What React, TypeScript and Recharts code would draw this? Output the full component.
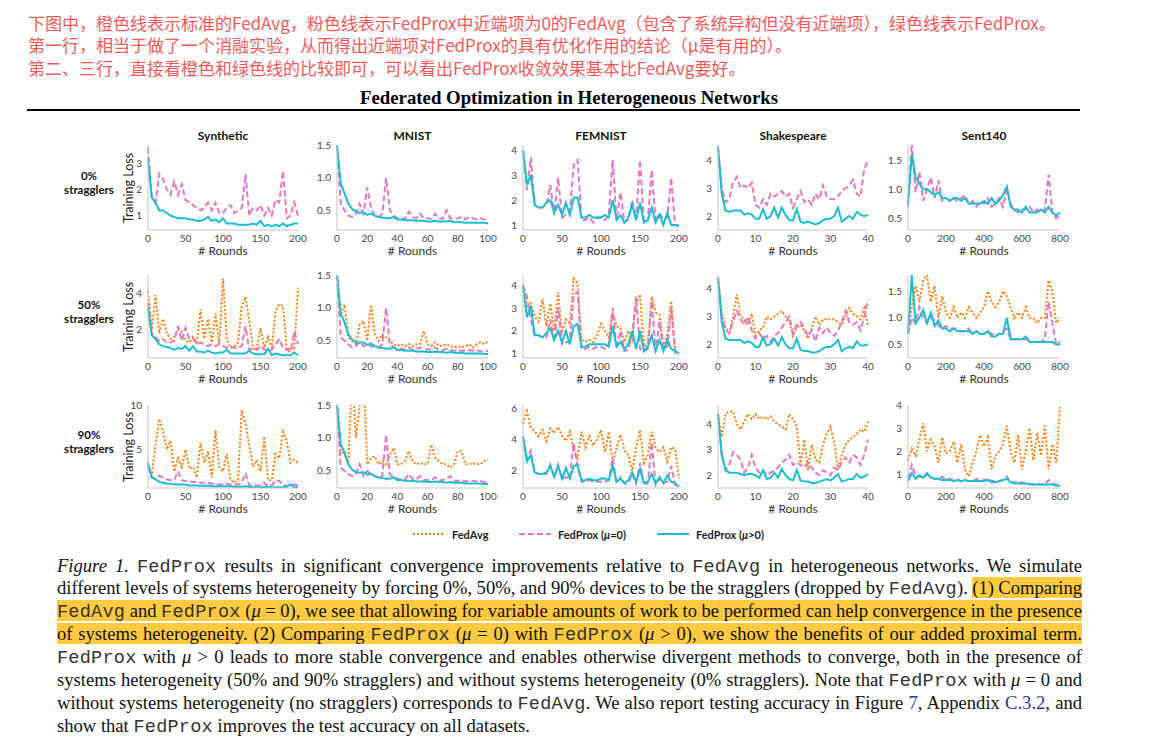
import React from 'react';
import { LineChart, Line, XAxis, YAxis } from 'recharts';

// x values (rounds) per dataset
const roundsSynthetic = [0, 5, 10, 15, 20, 25, 30, 35, 40, 45, 50, 55, 60, 65, 70, 75, 80, 85, 90, 95, 100, 105, 110, 115, 120, 125, 130, 135, 140, 145, 150, 155, 160, 165, 170, 175, 180, 185, 190, 195, 200];
const roundsMnist = [0, 2.5, 5, 7.5, 10, 12.5, 15, 17.5, 20, 22.5, 25, 27.5, 30, 32.5, 35, 37.5, 40, 42.5, 45, 47.5, 50, 52.5, 55, 57.5, 60, 62.5, 65, 67.5, 70, 72.5, 75, 77.5, 80, 82.5, 85, 87.5, 90, 92.5, 95, 97.5, 100];
const roundsFemnist = [0, 5, 10, 15, 20, 25, 30, 35, 40, 45, 50, 55, 60, 65, 70, 75, 80, 85, 90, 95, 100, 105, 110, 115, 120, 125, 130, 135, 140, 145, 150, 155, 160, 165, 170, 175, 180, 185, 190, 195, 200];
const roundsShakespeare = [0, 1, 2, 3, 4, 5, 6, 7, 8, 9, 10, 11, 12, 13, 14, 15, 16, 17, 18, 19, 20, 21, 22, 23, 24, 25, 26, 27, 28, 29, 30, 31, 32, 33, 34, 35, 36, 37, 38, 39, 40];
const roundsSent140 = [0, 20, 40, 60, 80, 100, 120, 140, 160, 180, 200, 220, 240, 260, 280, 300, 320, 340, 360, 380, 400, 420, 440, 460, 480, 500, 520, 540, 560, 580, 600, 620, 640, 660, 680, 700, 720, 740, 760, 780, 800];

// 0% stragglers
const syn0Prox0 = [3.6, 1.7, 1.5, 2.6, 2.4, 2.0, 1.8, 2.3, 1.8, 2.2, 1.6, 1.5, 1.4, 1.3, 1.2, 1.3, 1.5, 1.2, 1.5, 1.1, 1.1, 1.3, 1.4, 1.1, 1.2, 1.3, 2.6, 1.0, 1.3, 1.2, 1.4, 1.0, 1.3, 1.0, 1.6, 1.5, 2.7, 0.9, 1.0, 1.5, 1.0];
const syn0Prox = [3.2, 1.7, 1.5, 1.2, 1.2, 1.1, 1.0, 0.95, 0.9, 0.9, 0.9, 0.85, 0.85, 0.8, 0.8, 0.85, 0.95, 0.8, 0.85, 0.75, 0.9, 0.7, 0.7, 0.7, 0.65, 0.65, 0.65, 0.65, 0.7, 0.65, 0.8, 0.6, 0.65, 0.6, 0.65, 0.6, 0.7, 0.6, 0.65, 0.7, 0.7];
const mnist0Prox0 = [1.5, 0.6, 0.5, 0.42, 0.4, 0.45, 0.6, 0.45, 0.85, 0.55, 0.42, 0.4, 0.45, 1.0, 0.5, 0.42, 0.38, 0.38, 0.37, 0.48, 0.4, 0.38, 0.45, 0.38, 0.38, 0.37, 0.45, 0.38, 0.37, 0.5, 0.38, 0.37, 0.38, 0.4, 0.36, 0.4, 0.38, 0.36, 0.38, 0.36, 0.36];
const mnist0Prox = [1.5, 0.9, 0.76, 0.6, 0.52, 0.48, 0.46, 0.47, 0.43, 0.45, 0.42, 0.4, 0.39, 0.38, 0.38, 0.4, 0.36, 0.36, 0.35, 0.35, 0.35, 0.34, 0.34, 0.34, 0.33, 0.33, 0.34, 0.33, 0.33, 0.33, 0.34, 0.32, 0.32, 0.32, 0.31, 0.31, 0.31, 0.31, 0.31, 0.31, 0.3];
const femnist0Prox0 = [4.0, 2.4, 3.7, 1.8, 1.7, 1.7, 1.8, 2.6, 1.4, 2.9, 1.3, 1.4, 1.5, 3.4, 3.6, 1.2, 1.2, 1.3, 1.1, 1.3, 1.3, 1.2, 1.4, 3.6, 1.2, 2.3, 1.1, 1.2, 2.0, 1.2, 3.6, 1.1, 1.2, 3.2, 1.1, 1.5, 1.2, 1.3, 2.9, 1.0, 1.0];
const femnist0Prox = [4.0, 2.6, 3.0, 1.8, 1.7, 1.7, 1.9, 2.0, 1.5, 1.8, 1.4, 1.9, 1.4, 2.1, 2.1, 1.3, 1.3, 1.4, 1.3, 1.3, 1.3, 1.4, 1.3, 2.0, 1.2, 1.4, 1.1, 1.3, 1.8, 1.2, 1.9, 1.1, 1.2, 1.7, 1.1, 1.4, 1.0, 1.5, 1.0, 1.0, 0.95];
const shakes0Prox0 = [4.5, 3.0, 2.5, 2.6, 3.2, 3.4, 3.0, 3.1, 3.0, 3.2, 2.4, 2.3, 2.6, 2.4, 2.8, 2.7, 2.8, 2.9, 2.7, 2.8, 2.3, 2.6, 2.9, 2.5, 2.6, 2.4, 2.8, 2.6, 3.1, 2.7, 2.6, 2.6, 2.7, 2.9, 3.0, 3.1, 3.3, 2.8, 2.7, 3.7, 4.0];
const shakes0Prox = [4.5, 2.8, 2.2, 2.15, 2.2, 2.2, 2.2, 2.05, 2.1, 2.05, 1.9, 1.9, 2.25, 1.9, 2.0, 2.3, 1.95, 2.3, 2.05, 1.85, 1.85, 2.25, 1.8, 1.75, 1.8, 1.75, 1.7, 1.75, 1.85, 1.9, 1.9, 2.0, 2.3, 1.8, 1.9, 2.0, 1.9, 2.15, 2.05, 2.0, 2.05];
const sent0Prox0 = [0.7, 1.8, 0.95, 1.3, 0.8, 1.0, 1.2, 0.85, 1.15, 0.8, 0.85, 0.8, 0.85, 0.8, 0.85, 0.9, 0.75, 0.8, 0.7, 0.8, 0.75, 0.85, 0.7, 0.75, 0.85, 0.7, 1.0, 0.75, 0.65, 0.6, 0.65, 0.65, 0.7, 0.6, 0.65, 0.6, 0.65, 1.25, 0.6, 0.5, 0.55];
const sent0Prox = [0.75, 1.6, 1.2, 1.1, 1.0, 1.0, 0.95, 0.9, 0.95, 0.85, 0.85, 0.8, 0.85, 0.85, 0.8, 0.85, 0.75, 0.75, 0.75, 0.75, 0.8, 0.75, 0.85, 0.75, 0.8, 0.9, 1.05, 0.7, 0.65, 0.65, 0.6, 0.7, 0.6, 0.6, 0.6, 0.65, 0.6, 0.7, 0.6, 0.55, 0.6];

// 50% stragglers
const syn50Avg = [4.1, 2.0, 3.9, 1.8, 2.6, 1.8, 1.5, 1.6, 2.0, 1.9, 1.4, 1.3, 1.6, 1.3, 3.1, 1.5, 2.6, 1.3, 2.9, 1.2, 4.8, 1.5, 1.0, 1.1, 1.3, 3.3, 3.8, 2.5, 1.0, 0.9, 2.1, 1.0, 1.6, 1.0, 3.0, 3.4, 3.3, 0.9, 1.0, 0.9, 4.3];
const syn50Prox0 = [3.5, 1.8, 1.6, 1.4, 1.5, 1.3, 1.3, 1.4, 2.2, 1.4, 2.1, 1.5, 1.5, 1.2, 1.3, 1.2, 1.1, 1.2, 1.1, 1.2, 1.1, 1.0, 1.1, 1.0, 1.0, 1.1, 2.2, 0.9, 1.0, 0.9, 1.1, 0.9, 0.9, 0.9, 1.2, 1.5, 1.0, 0.9, 0.8, 1.9, 1.2];
const syn50Prox = [3.2, 1.7, 1.5, 1.2, 1.1, 1.05, 1.0, 0.9, 1.0, 0.95, 1.1, 0.85, 1.1, 0.8, 0.8, 0.75, 0.85, 0.75, 0.7, 0.75, 0.75, 0.9, 0.7, 0.7, 0.7, 0.7, 0.7, 0.85, 0.7, 0.65, 0.65, 0.65, 0.95, 0.6, 0.7, 0.65, 0.6, 0.6, 0.6, 0.75, 0.6];
const mnist50Avg = [1.5, 0.9, 1.05, 0.55, 0.5, 0.45, 0.75, 0.8, 0.5, 1.05, 0.6, 0.5, 0.6, 0.55, 0.5, 0.45, 0.42, 0.45, 0.42, 0.45, 0.42, 0.45, 0.45, 0.65, 0.45, 0.42, 0.48, 0.42, 0.43, 0.45, 0.42, 0.4, 0.42, 0.4, 0.42, 0.45, 0.4, 0.45, 0.48, 0.45, 0.5];
const mnist50Prox0 = [1.5, 0.55, 0.5, 0.45, 0.4, 0.42, 0.48, 0.42, 0.45, 0.42, 0.42, 0.4, 0.45, 1.0, 0.45, 0.4, 0.38, 0.38, 0.37, 0.4, 0.37, 0.38, 0.4, 0.38, 0.37, 0.37, 0.4, 0.36, 0.36, 0.38, 0.36, 0.35, 0.36, 0.35, 0.35, 0.36, 0.35, 0.36, 0.34, 0.35, 0.35];
const mnist50Prox = [1.5, 0.9, 0.78, 0.6, 0.52, 0.48, 0.47, 0.48, 0.44, 0.46, 0.42, 0.4, 0.39, 0.38, 0.38, 0.4, 0.36, 0.36, 0.35, 0.35, 0.35, 0.34, 0.34, 0.34, 0.33, 0.33, 0.34, 0.33, 0.33, 0.32, 0.33, 0.32, 0.32, 0.32, 0.31, 0.31, 0.31, 0.31, 0.31, 0.3, 0.3];
const femnist50Avg = [4.0, 3.0, 3.2, 2.6, 2.4, 3.4, 2.2, 3.2, 2.0, 3.7, 1.9, 2.5, 2.3, 4.3, 4.1, 1.6, 1.5, 1.6, 1.5, 1.8, 2.3, 2.0, 1.7, 2.8, 2.2, 2.1, 1.5, 2.0, 1.6, 3.2, 3.6, 1.3, 1.4, 3.5, 2.8, 2.7, 1.3, 1.8, 3.3, 1.1, 1.0];
const femnist50Prox0 = [4.0, 3.5, 2.5, 1.8, 1.8, 1.7, 1.7, 2.5, 1.5, 3.0, 1.4, 1.5, 1.5, 3.6, 3.7, 1.2, 1.2, 1.3, 1.2, 1.3, 1.3, 1.2, 1.4, 3.0, 1.2, 2.0, 1.1, 1.2, 1.8, 3.5, 1.2, 1.1, 1.2, 3.3, 1.1, 2.4, 1.2, 1.3, 3.0, 1.0, 1.0];
const femnist50Prox = [4.0, 2.6, 3.1, 1.8, 1.8, 1.7, 1.9, 2.1, 1.6, 2.0, 1.5, 2.0, 1.4, 2.2, 2.3, 1.3, 1.3, 1.4, 1.4, 1.4, 1.4, 1.4, 1.3, 2.2, 1.3, 1.5, 1.2, 1.4, 2.0, 1.2, 2.0, 1.1, 1.3, 1.8, 1.1, 1.6, 1.1, 1.6, 1.2, 1.1, 1.0];
const shakes50Avg = [4.4, 3.2, 2.6, 2.4, 3.0, 3.8, 3.0, 2.9, 2.7, 3.1, 2.3, 2.5, 2.6, 3.0, 2.9, 3.0, 3.1, 3.2, 3.0, 2.8, 2.3, 2.6, 2.7, 2.5, 2.2, 2.6, 3.0, 2.7, 2.9, 2.9, 2.9, 2.9, 2.8, 2.7, 3.0, 3.3, 3.1, 3.0, 2.9, 3.3, 2.7];
const shakes50Prox0 = [4.4, 3.0, 2.5, 2.4, 2.8, 3.2, 2.9, 2.7, 3.0, 2.5, 2.2, 2.4, 2.2, 2.3, 2.1, 2.3, 2.4, 2.6, 2.8, 3.0, 2.4, 2.7, 2.8, 2.6, 2.3, 2.5, 2.1, 2.6, 2.4, 2.6, 2.4, 2.3, 2.5, 2.8, 3.2, 2.8, 2.7, 2.8, 2.5, 3.0, 3.6];
const shakes50Prox = [4.4, 2.8, 2.2, 2.15, 2.15, 2.15, 2.15, 2.05, 2.1, 2.05, 1.9, 1.9, 2.25, 1.95, 2.0, 2.2, 1.95, 2.25, 2.0, 1.85, 1.85, 2.2, 1.8, 1.75, 1.75, 1.7, 1.7, 1.75, 1.85, 1.9, 1.9, 2.0, 2.15, 1.75, 1.85, 1.9, 1.85, 2.1, 1.95, 1.95, 2.0];
const sent50Avg = [0.8, 1.2, 1.6, 1.3, 1.7, 1.8, 1.3, 1.6, 1.0, 1.4, 1.1, 1.0, 1.2, 1.0, 1.1, 1.0, 1.2, 1.1, 1.0, 1.1, 1.2, 1.5, 1.3, 1.2, 1.3, 1.5, 1.4, 1.2, 1.0, 1.1, 1.0, 1.2, 1.0, 1.0, 0.9, 1.0, 1.0, 1.7, 1.5, 0.9, 1.0];
const sent50Prox0 = [0.7, 1.0, 0.9, 1.2, 1.0, 0.9, 1.0, 0.95, 0.85, 0.8, 0.85, 0.8, 0.8, 0.8, 0.75, 0.75, 0.8, 0.7, 0.75, 0.7, 0.7, 0.75, 0.7, 0.65, 0.7, 0.75, 0.8, 0.6, 0.6, 0.6, 0.6, 0.6, 0.55, 0.55, 0.55, 0.55, 0.6, 1.3, 0.9, 0.5, 0.55];
const sent50Prox = [0.7, 1.8, 0.9, 1.0, 1.15, 0.9, 1.1, 0.85, 0.95, 0.8, 0.8, 0.75, 0.8, 0.75, 0.75, 0.75, 0.75, 0.7, 0.75, 0.7, 0.7, 0.75, 0.65, 0.65, 0.7, 0.7, 1.0, 0.6, 0.6, 0.6, 0.6, 0.65, 0.55, 0.55, 0.55, 0.55, 0.55, 0.55, 0.55, 0.5, 0.5];

// 90% stragglers
const syn90Avg = [3.0, 2.0, 5.5, 8.5, 7.2, 5.0, 6.0, 2.5, 4.0, 3.0, 5.0, 2.8, 3.0, 1.8, 5.8, 3.5, 4.8, 1.8, 7.2, 3.0, 2.5, 4.5, 1.5, 1.2, 1.5, 9.5, 8.0, 5.5, 3.0, 3.8, 2.5, 6.5, 1.5, 1.5, 4.5, 4.0, 7.0, 6.0, 3.5, 3.8, 3.5];
const syn90Prox0 = [3.0, 1.8, 1.7, 2.0, 1.8, 1.6, 1.5, 1.5, 2.5, 1.5, 1.4, 1.4, 1.3, 1.3, 1.2, 1.2, 1.2, 1.1, 1.1, 1.0, 1.0, 1.1, 1.0, 1.0, 1.0, 1.2, 2.3, 0.9, 0.9, 0.9, 0.9, 1.2, 0.8, 0.9, 1.5, 1.4, 1.0, 0.8, 1.0, 1.0, 0.9];
const syn90Prox = [3.5, 1.8, 1.6, 1.3, 1.2, 1.1, 1.1, 1.0, 1.0, 1.0, 1.0, 0.9, 0.9, 0.9, 0.85, 0.85, 0.85, 0.8, 0.8, 0.8, 0.8, 0.8, 0.8, 0.75, 0.75, 0.75, 0.8, 0.75, 0.7, 0.7, 0.7, 0.75, 0.7, 0.7, 0.7, 0.7, 0.7, 0.75, 1.0, 0.7, 0.7];
const mnist90Avg = [1.5, 0.8, 0.75, 0.6, 2.0, 1.0, 1.5, 2.0, 0.6, 0.7, 0.72, 0.6, 0.65, 0.6, 0.75, 0.85, 0.6, 0.6, 0.65, 0.8, 0.65, 0.6, 0.62, 0.6, 0.6, 0.9, 0.7, 0.65, 0.6, 0.6, 0.55, 0.6, 0.8, 0.8, 0.6, 0.6, 0.62, 0.6, 0.6, 0.65, 0.68];
const mnist90Prox0 = [1.5, 0.55, 0.5, 0.45, 0.42, 0.45, 0.6, 0.42, 0.5, 0.45, 0.42, 0.4, 0.42, 1.05, 0.45, 0.4, 0.38, 0.37, 0.37, 0.45, 0.38, 0.37, 0.42, 0.36, 0.36, 0.36, 0.4, 0.35, 0.36, 0.38, 0.42, 0.35, 0.35, 0.36, 0.34, 0.35, 0.35, 0.34, 0.35, 0.33, 0.34];
const mnist90Prox = [1.5, 0.9, 0.78, 0.6, 0.52, 0.48, 0.47, 0.48, 0.44, 0.46, 0.42, 0.4, 0.39, 0.38, 0.38, 0.4, 0.36, 0.36, 0.35, 0.35, 0.35, 0.34, 0.34, 0.34, 0.33, 0.33, 0.34, 0.33, 0.33, 0.32, 0.33, 0.32, 0.32, 0.32, 0.31, 0.31, 0.31, 0.31, 0.31, 0.3, 0.3];
const femnist90Avg = [5.0, 5.8, 4.8, 4.5, 4.2, 4.6, 3.9, 4.7, 4.4, 4.8, 4.2, 3.9, 4.5, 3.3, 2.8, 4.5, 3.5, 4.2, 3.6, 4.0, 4.6, 3.2, 4.5, 2.5, 3.5, 4.3, 3.3, 3.0, 2.0, 3.5, 4.6, 2.5, 3.0, 4.5, 3.5, 3.2, 3.5, 2.6, 3.5, 3.4, 1.5];
const femnist90Prox0 = [4.2, 2.8, 3.3, 1.9, 1.8, 1.8, 1.8, 2.4, 1.6, 2.4, 1.5, 1.6, 1.5, 3.8, 2.2, 1.3, 1.3, 1.4, 1.3, 1.3, 1.3, 1.3, 1.4, 2.8, 1.2, 1.6, 1.2, 1.2, 1.8, 1.2, 2.5, 1.1, 1.2, 3.8, 1.1, 1.5, 1.2, 1.3, 2.3, 1.1, 1.0];
const femnist90Prox = [4.2, 2.6, 3.0, 1.9, 1.8, 1.8, 1.9, 2.3, 1.6, 2.3, 1.5, 2.2, 1.5, 2.3, 2.4, 1.4, 1.4, 1.5, 1.4, 1.4, 1.5, 1.5, 1.4, 2.3, 1.3, 1.5, 1.2, 1.4, 1.9, 1.3, 2.1, 1.2, 1.3, 1.8, 1.2, 1.6, 1.2, 1.7, 1.3, 1.2, 1.0];
const shakes90Avg = [4.4, 3.5, 4.4, 4.5, 4.5, 4.0, 3.8, 4.1, 4.4, 4.2, 4.4, 4.2, 4.3, 4.2, 4.3, 4.1, 4.0, 3.9, 3.8, 4.4, 4.2, 3.9, 2.4, 3.4, 2.2, 3.2, 2.6, 2.5, 3.2, 3.6, 3.9, 3.3, 2.2, 2.8, 3.2, 3.4, 3.5, 3.6, 3.8, 3.7, 4.1];
const shakes90Prox0 = [4.4, 2.8, 2.2, 2.4, 2.9, 2.8, 2.6, 2.1, 2.3, 2.8, 2.3, 2.1, 2.2, 2.0, 2.1, 2.2, 2.3, 2.5, 2.6, 2.8, 2.4, 2.5, 2.4, 2.3, 2.5, 2.3, 2.1, 2.0, 2.2, 2.1, 2.0, 2.3, 2.2, 2.5, 2.7, 2.5, 2.8, 2.7, 2.4, 2.8, 3.4];
const shakes90Prox = [4.4, 2.8, 2.2, 2.1, 2.1, 2.1, 2.05, 2.0, 2.05, 2.05, 2.0, 1.9, 2.2, 1.85, 1.9, 2.1, 1.9, 2.25, 2.0, 1.85, 1.8, 2.2, 1.8, 1.75, 1.75, 1.7, 1.7, 1.75, 1.8, 1.85, 1.8, 1.9, 2.05, 1.75, 1.8, 1.85, 1.85, 2.05, 1.9, 1.95, 2.05];
const sent90Avg = [1.6, 2.1, 1.8, 2.5, 3.2, 2.0, 2.5, 2.2, 1.5, 2.6, 1.9, 2.0, 2.4, 1.5, 2.3, 1.2, 0.9, 1.5, 2.0, 2.7, 2.2, 2.6, 1.2, 1.8, 2.0, 2.3, 3.1, 2.0, 1.5, 2.7, 1.2, 2.0, 3.0, 1.6, 2.8, 1.8, 3.1, 1.2, 2.3, 1.5, 3.9];
const sent90Prox0 = [0.8, 1.4, 0.9, 0.9, 0.85, 1.0, 0.85, 0.8, 0.8, 0.9, 0.75, 0.8, 0.75, 0.75, 0.7, 0.75, 0.7, 0.7, 0.8, 0.7, 0.75, 0.8, 0.7, 0.7, 0.7, 0.75, 0.9, 0.65, 0.65, 0.6, 0.65, 0.6, 0.6, 0.55, 0.6, 0.55, 0.55, 0.75, 0.6, 0.55, 0.5];
const sent90Prox = [0.7, 1.05, 0.8, 0.95, 0.85, 1.05, 0.85, 0.8, 0.8, 0.75, 0.75, 0.75, 0.7, 0.75, 0.7, 0.75, 0.7, 0.7, 0.7, 0.7, 0.7, 0.75, 0.65, 0.65, 0.7, 0.75, 0.8, 0.65, 0.6, 0.6, 0.6, 0.6, 0.55, 0.55, 0.55, 0.55, 0.55, 0.55, 0.55, 0.5, 0.5];

const datasetTitles = ['Synthetic', 'MNIST', 'FEMNIST', 'Shakespeare', 'Sent140'];
const rowLabels = ['0%', '50%', '90%'];

const COLORS = { avg: '#ff7f0e', prox0: '#e377c2', prox: '#17becf' };

// pixel layout of the plot areas
const colLeft = [148, 337, 523, 718, 908];
const colRight = [298, 488, 679, 868, 1060];
const rowTop = [145, 275, 405];
const rowBottom = [230, 358, 488];

type PanelCfg = {
  rounds: number[];
  xTicks: number[];
  yDomain: [number, number];
  yTicks: number[];
  decimals: number;
  avg?: number[];
  prox0: number[];
  prox: number[];
};

const xt = {
  syn: [0, 50, 100, 150, 200],
  mnist: [0, 20, 40, 60, 80, 100],
  shakes: [0, 10, 20, 30, 40],
  sent: [0, 200, 400, 600, 800],
};

const panels: PanelCfg[][] = [
  [
    { rounds: roundsSynthetic, xTicks: xt.syn, yDomain: [0.45, 3.7], yTicks: [1, 2, 3], decimals: 0, prox0: syn0Prox0, prox: syn0Prox },
    { rounds: roundsMnist, xTicks: xt.mnist, yDomain: [0.2, 1.5], yTicks: [0.5, 1.0, 1.5], decimals: 1, prox0: mnist0Prox0, prox: mnist0Prox },
    { rounds: roundsFemnist, xTicks: xt.syn, yDomain: [0.8, 4.2], yTicks: [1, 2, 3, 4], decimals: 0, prox0: femnist0Prox0, prox: femnist0Prox },
    { rounds: roundsShakespeare, xTicks: xt.shakes, yDomain: [1.5, 4.55], yTicks: [2, 3, 4], decimals: 0, prox0: shakes0Prox0, prox: shakes0Prox },
    { rounds: roundsSent140, xTicks: xt.sent, yDomain: [0.3, 1.76], yTicks: [0.5, 1.0, 1.5], decimals: 1, prox0: sent0Prox0, prox: sent0Prox },
  ],
  [
    { rounds: roundsSynthetic, xTicks: xt.syn, yDomain: [0.45, 5.0], yTicks: [2, 4], decimals: 0, avg: syn50Avg, prox0: syn50Prox0, prox: syn50Prox },
    { rounds: roundsMnist, xTicks: xt.mnist, yDomain: [0.24, 1.5], yTicks: [0.5, 1.0, 1.5], decimals: 1, avg: mnist50Avg, prox0: mnist50Prox0, prox: mnist50Prox },
    { rounds: roundsFemnist, xTicks: xt.syn, yDomain: [0.8, 4.45], yTicks: [1, 2, 3, 4], decimals: 0, avg: femnist50Avg, prox0: femnist50Prox0, prox: femnist50Prox },
    { rounds: roundsShakespeare, xTicks: xt.shakes, yDomain: [1.5, 4.5], yTicks: [2, 3, 4], decimals: 0, avg: shakes50Avg, prox0: shakes50Prox0, prox: shakes50Prox },
    { rounds: roundsSent140, xTicks: xt.sent, yDomain: [0.25, 1.8], yTicks: [0.5, 1.0, 1.5], decimals: 1, avg: sent50Avg, prox0: sent50Prox0, prox: sent50Prox },
  ],
  [
    { rounds: roundsSynthetic, xTicks: xt.syn, yDomain: [0.6, 10.1], yTicks: [5, 10], decimals: 0, avg: syn90Avg, prox0: syn90Prox0, prox: syn90Prox },
    { rounds: roundsMnist, xTicks: xt.mnist, yDomain: [0.24, 1.5], yTicks: [0.5, 1.0, 1.5], decimals: 1, avg: mnist90Avg, prox0: mnist90Prox0, prox: mnist90Prox },
    { rounds: roundsFemnist, xTicks: xt.syn, yDomain: [0.9, 6.2], yTicks: [2, 4, 6], decimals: 0, avg: femnist90Avg, prox0: femnist90Prox0, prox: femnist90Prox },
    { rounds: roundsShakespeare, xTicks: xt.shakes, yDomain: [1.5, 4.75], yTicks: [2, 3, 4], decimals: 0, avg: shakes90Avg, prox0: shakes90Prox0, prox: shakes90Prox },
    { rounds: roundsSent140, xTicks: xt.sent, yDomain: [0.4, 4.0], yTicks: [1, 2, 3, 4], decimals: 0, avg: sent90Avg, prox0: sent90Prox0, prox: sent90Prox },
  ],
];

const sans = 'Lato, "Open Sans", sans-serif';
const serif = '"Liberation Serif", "Times New Roman", serif';
const mono = '"Liberation Mono", "Courier New", monospace';
const tickStyle = { fontSize: 10, fill: '#444', fontFamily: sans };
const axisStyle = { stroke: '#c4c4c4' };

const Panel = ({ cfg, row, col }: { cfg: PanelCfg; row: number; col: number }) => {
  const left = colLeft[col];
  const right = colRight[col];
  const top = rowTop[row];
  const bottom = rowBottom[row];
  const data = cfg.rounds.map((r, i) => ({
    round: r,
    avg: cfg.avg ? cfg.avg[i] : null,
    prox0: cfg.prox0[i],
    prox: cfg.prox[i],
  }));
  const xMax = cfg.xTicks[cfg.xTicks.length - 1];
  return (
    <div style={{ position: 'absolute', left: left - 30, top: top - 9 }}>
      <LineChart width={right - left + 42} height={bottom - top + 25} data={data} margin={{ top: 9, right: 12, bottom: 0, left: 0 }}>
        <XAxis dataKey="round" type="number" domain={[0, xMax]} ticks={cfg.xTicks} interval={0}
          tickLine={false} tickSize={3} height={16} axisLine={axisStyle} tick={tickStyle} />
        <YAxis type="number" domain={cfg.yDomain} ticks={cfg.yTicks} interval={0} allowDataOverflow
          width={30} tickLine={false} tickSize={4} axisLine={axisStyle} tick={tickStyle}
          tickFormatter={(v: number) => v.toFixed(cfg.decimals)} />
        {cfg.avg && (
          <Line dataKey="avg" stroke={COLORS.avg} strokeWidth={2} strokeDasharray="2 2" dot={false} isAnimationActive={false} />
        )}
        <Line dataKey="prox0" stroke={COLORS.prox0} strokeWidth={2} strokeDasharray="6 3" dot={false} isAnimationActive={false} />
        <Line dataKey="prox" stroke={COLORS.prox} strokeWidth={2} dot={false} isAnimationActive={false} />
      </LineChart>
      <div style={{ position: 'absolute', left: 30, width: right - left, top: bottom - top + 23, textAlign: 'center', fontFamily: sans, fontSize: 12, lineHeight: '14px', color: '#333' }}>
        # Rounds
      </div>
    </div>
  );
};

const M = ({ children }: { children: React.ReactNode }) => <span style={{ fontFamily: mono, color: '#333', letterSpacing: '0.2px' }}>{children}</span>;
const mu = <i>μ</i>;
const hl = { background: '#ffc940' };
const link = { color: '#1c3b9e' };

const captionLines: React.ReactNode[] = [
  <><i>Figure 1.</i> <M>FedProx</M> results in significant convergence improvements relative to <M>FedAvg</M> in heterogeneous networks.  We simulate</>,
  <>different levels of systems heterogeneity by forcing 0%, 50%, and 90% devices to be the stragglers (dropped by <M>FedAvg</M>). <span style={hl}>(1) Comparing</span></>,
  <span style={hl}><M>FedAvg</M> and <M>FedProx</M> ({mu} = 0), we see that allowing for variable amounts of work to be performed can help convergence in the presence</span>,
  <span style={hl}>of systems heterogeneity. (2) Comparing <M>FedProx</M> ({mu} = 0) with <M>FedProx</M> ({mu} &gt; 0), we show the benefits of our added proximal term.</span>,
  <><M>FedProx</M> with {mu} &gt; 0 leads to more stable convergence and enables otherwise divergent methods to converge, both in the presence of</>,
  <>systems heterogeneity (50% and 90% stragglers) and without systems heterogeneity (0% stragglers). Note that <M>FedProx</M> with {mu} = 0 and</>,
  <>without systems heterogeneity (no stragglers) corresponds to <M>FedAvg</M>. We also report testing accuracy in Figure <span style={link}>7</span>, Appendix <span style={link}>C.3.2</span>, and</>,
  <>show that <M>FedProx</M> improves the test accuracy on all datasets.</>,
];

const noteLines = [
  '下图中，橙色线表示标准的FedAvg，粉色线表示FedProx中近端项为0的FedAvg（包含了系统异构但没有近端项），绿色线表示FedProx。',
  '第一行，相当于做了一个消融实验，从而得出近端项对FedProx的具有优化作用的结论（μ是有用的）。',
  '第二、三行，直接看橙色和绿色线的比较即可，可以看出FedProx收敛效果基本比FedAvg要好。',
];

const LegendItem = ({ x, color, dash, label }: { x: number; color: string; dash?: string; label: React.ReactNode }) => (
  <div style={{ position: 'absolute', left: x, top: 526, height: 16, display: 'flex', alignItems: 'center' }}>
    <svg width={32} height={6}><line x1={0} y1={3} x2={32} y2={3} stroke={color} strokeWidth={2} strokeDasharray={dash} /></svg>
    <span style={{ marginLeft: 7, fontFamily: sans, fontWeight: 700, fontSize: 11, color: '#222' }}>{label}</span>
  </div>
);

export default function App() {
  return (
    <div style={{ position: 'absolute', left: 0, top: 0, width: 1158, height: 744, background: '#fff', overflow: 'hidden' }}>
      <div style={{ position: 'absolute', left: 28, top: 12, fontFamily: '"Noto Sans CJK SC", sans-serif', fontSize: 17, lineHeight: '22.3px', color: '#f25a5a', whiteSpace: 'nowrap' }}>
        {noteLines.map((t, i) => (
          <React.Fragment key={i}>{t}{i < noteLines.length - 1 && <br />}</React.Fragment>
        ))}
      </div>
      <div style={{ position: 'absolute', left: 0, width: 1138, top: 86, textAlign: 'center', fontFamily: serif, fontWeight: 700, fontSize: 18.8, lineHeight: '24px', color: '#000' }}>
        Federated Optimization in Heterogeneous Networks
      </div>
      <div style={{ position: 'absolute', left: 27, width: 1053, top: 109, height: 2, background: '#000' }} />

      {datasetTitles.map((t, c) => (
        <div key={t} style={{ position: 'absolute', left: colLeft[c], width: colRight[c] - colLeft[c], top: 128, textAlign: 'center', fontFamily: sans, fontWeight: 700, fontSize: 12, color: '#111' }}>{t}</div>
      ))}
      {rowLabels.map((t, r) => {
        const cy = (rowTop[r] + rowBottom[r]) / 2;
        return (
          <React.Fragment key={t}>
            <div style={{ position: 'absolute', left: 49, width: 80, top: cy - 19, textAlign: 'center', fontFamily: sans, fontWeight: 700, fontSize: 11.5, lineHeight: '14px', color: '#111' }}>
              {t}<br />stragglers
            </div>
            <div style={{ position: 'absolute', left: 79, width: 100, top: cy - 8, height: 16, textAlign: 'center', fontFamily: sans, fontSize: 12.5, lineHeight: '16px', color: '#222', transform: 'rotate(-90deg)' }}>
              Training Loss
            </div>
          </React.Fragment>
        );
      })}
      {panels.map((rowCfg, r) => rowCfg.map((cfg, c) => <Panel key={`${r}-${c}`} cfg={cfg} row={r} col={c} />))}

      <LegendItem x={413} color={COLORS.avg} dash="2 2" label="FedAvg" />
      <LegendItem x={519} color={COLORS.prox0} dash="6 3" label={<>FedProx (<i>μ</i>=0)</>} />
      <LegendItem x={657} color={COLORS.prox} label={<>FedProx (<i>μ</i>&gt;0)</>} />

      {captionLines.map((line, i) => {
        const last = i === captionLines.length - 1;
        return (
          <div key={i} style={{
            position: 'absolute', left: 57, width: 1025, top: 553.5 + i * 22.9, fontFamily: serif, fontSize: 18.6, lineHeight: '23px', color: '#111',
            wordSpacing: last ? '0px' : '-1.2px', textAlign: 'justify', textAlignLast: last ? 'left' : 'justify',
          }}>{line}</div>
        );
      })}
    </div>
  );
}
